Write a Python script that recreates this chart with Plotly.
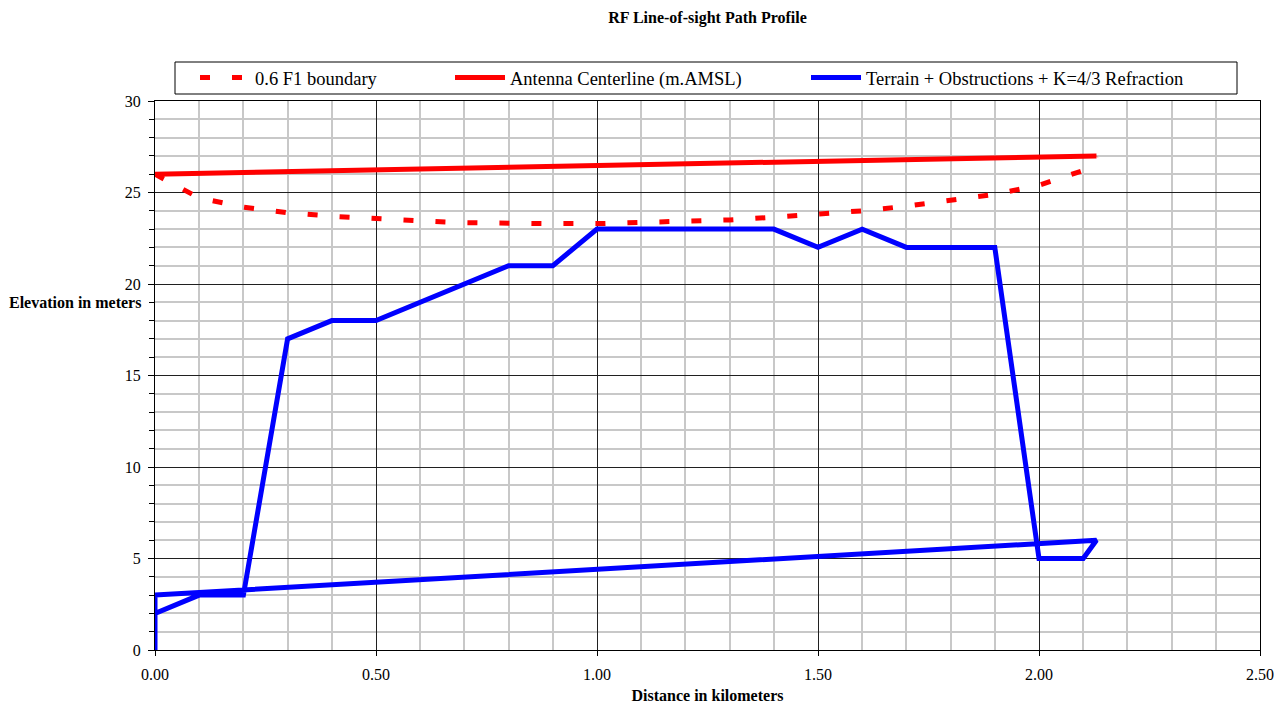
import plotly.graph_objects as go

# Data
f1_x = [0.0, 0.1, 0.2, 0.3, 0.4, 0.5, 0.6, 0.7, 0.8, 0.9, 1.0, 1.1, 1.2, 1.3, 1.4, 1.5, 1.6, 1.7, 1.8, 1.9, 2.0, 2.1, 2.13]
f1_y = [26.0, 24.7, 24.2, 23.9, 23.7, 23.55, 23.45, 23.35, 23.3, 23.3, 23.3, 23.35, 23.4, 23.5, 23.65, 23.8, 24.0, 24.25, 24.55, 24.9, 25.4, 26.2, 27.0]

ant_x = [0.0, 2.13]
ant_y = [26.0, 27.0]

terr_x = [0.0, 0.0, 0.1, 0.2, 0.3, 0.4, 0.5, 0.6, 0.7, 0.8, 0.9, 1.0, 1.1, 1.2, 1.3, 1.4, 1.5, 1.6, 1.7, 1.8, 1.9, 2.0, 2.1, 2.13, 0.0, 0.0]
terr_y = [0.0, 2.0, 3.0, 3.0, 17.0, 18.0, 18.0, 19.0, 20.0, 21.0, 21.0, 23.0, 23.0, 23.0, 23.0, 23.0, 22.0, 23.0, 22.0, 22.0, 22.0, 5.0, 5.0, 6.0, 3.0, 2.0]

names = ["0.6 F1 boundary", "Antenna Centerline (m.AMSL)", "Terrain + Obstructions + K=4/3 Refraction"]

FONT = "Liberation Serif"
W, H = 1274, 704
L, R, T, B = 155, 14, 101, 54

fig = go.Figure()
fig.add_trace(go.Scatter(x=f1_x, y=f1_y, mode="lines", name=names[0], legend="legend",
                         line=dict(color="#ff0000", width=5, dash="10px,22px")))
fig.add_trace(go.Scatter(x=ant_x, y=ant_y, mode="lines", name=names[1], legend="legend2",
                         line=dict(color="#ff0000", width=5)))
fig.add_trace(go.Scatter(x=terr_x, y=terr_y, mode="lines", name=names[2], legend="legend3",
                         line=dict(color="#0000ff", width=5, shape="linear")))

def leg(xpix):
    return dict(orientation="h", xref="container", yref="container",
                x=xpix / W, xanchor="left", y=1 - 78 / H, yanchor="middle",
                borderwidth=0, bgcolor="rgba(0,0,0,0)",
                font=dict(size=18.5, family=FONT, color="black"), itemwidth=50)

fig.update_layout(
    width=W, height=H,
    margin=dict(l=L, r=R, t=T, b=B, autoexpand=False),
    paper_bgcolor="white", plot_bgcolor="white",
    font=dict(family=FONT, size=16, color="black"),
    title=dict(text="<b>RF Line-of-sight Path Profile</b>", x=(L + 1105 / 2) / W, xanchor="center",
               y=1 - 17 / H, yanchor="middle", font=dict(size=16, family=FONT, color="black")),
    showlegend=True,
    legend=leg(195), legend2=leg(450), legend3=leg(806),
    shapes=[dict(type="rect", xref="paper", yref="paper",
                 x0=(175 - L) / 1105, x1=(1237 - L) / 1105,
                 y0=(650 - 94) / 549, y1=(650 - 62) / 549,
                 line=dict(color="black", width=1), fillcolor="rgba(0,0,0,0)", layer="below")],
    xaxis=dict(range=[0, 2.5], dtick=0.5, tickformat=".2f", showgrid=True, gridcolor="#202020", gridwidth=1,
               showline=True, linecolor="#000000", linewidth=1, mirror=True, zeroline=False,
               ticks="outside", ticklen=5, tickcolor="black", ticklabelstandoff=5,
               tickfont=dict(size=16, family=FONT, color="black"),
               minor=dict(dtick=0.1, showgrid=True, gridcolor="#c8c8c8", gridwidth=1.5),
               title=dict(text="<b>Distance in kilometers</b>", font=dict(size=16, family=FONT, color="black"), standoff=10),
               fixedrange=True),
    yaxis=dict(range=[0, 30], dtick=5, showgrid=True, gridcolor="#202020", gridwidth=1,
               showline=True, linecolor="#000000", linewidth=1, mirror=True, zeroline=False,
               ticks="outside", ticklen=6, tickcolor="black", ticklabelstandoff=4,
               tickfont=dict(size=16, family=FONT, color="black"),
               minor=dict(dtick=1, showgrid=True, gridcolor="#c8c8c8", gridwidth=1.5, ticks="outside", ticklen=5, tickcolor="black"),
               fixedrange=True),
    annotations=[dict(text="<b>Elevation in meters</b>", xref="paper", yref="y", x=0, y=19,
                      xanchor="right", yanchor="middle", xshift=-12, showarrow=False,
                      font=dict(size=16, family=FONT, color="black"))],
)

fig.write_html("out.html", config={"displayModeBar": False},
               post_script="document.body.style.margin='0';document.body.style.overflow='hidden';")
